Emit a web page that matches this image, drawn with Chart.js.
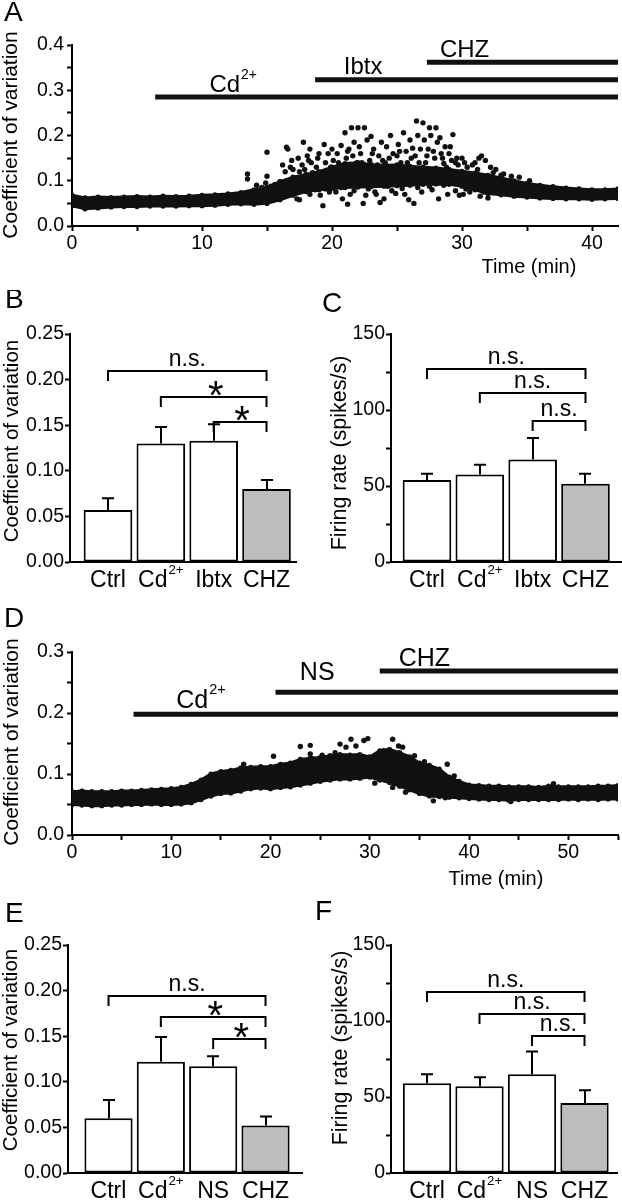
<!DOCTYPE html>
<html><head><meta charset="utf-8">
<script src="https://cdn.jsdelivr.net/npm/chart.js@4.4.1/dist/chart.umd.min.js"></script>
<style>
html,body{margin:0;padding:0;background:#fff;}
body{width:622px;height:1200px;position:relative;overflow:hidden;}
canvas{position:absolute;}
</style></head><body>
<canvas id="cA" width="622" height="290" style="left:0;top:0;width:622px;height:290px"></canvas>
<canvas id="cB" width="311" height="310" style="left:0;top:290px;width:311px;height:310px"></canvas>
<canvas id="cC" width="311" height="310" style="left:311px;top:290px;width:311px;height:310px"></canvas>
<canvas id="cD" width="622" height="310" style="left:0;top:590px;width:622px;height:310px"></canvas>
<canvas id="cE" width="311" height="300" style="left:0;top:900px;width:311px;height:300px"></canvas>
<canvas id="cF" width="311" height="300" style="left:311px;top:900px;width:311px;height:300px"></canvas>
<script>
// ---------------- DATA ----------------
// Panel A: CV time course (min)
const bandTimeA = [0,1,2,3,4,5,6,7,8,9,10,11,12,13,14,15,16,17,18,19,20,21,22,23,24,25,26,27,28,29,30,31,32,33,34,35,36,37,38,39,40,41,42];
const bandLowA  = [0.045,0.038,0.040,0.042,0.043,0.043,0.044,0.044,0.044,0.045,0.045,0.046,0.048,0.049,0.048,0.050,0.058,0.068,0.076,0.080,0.083,0.085,0.086,0.087,0.088,0.089,0.090,0.092,0.093,0.092,0.088,0.080,0.072,0.069,0.066,0.064,0.062,0.061,0.060,0.060,0.059,0.060,0.061];
const bandHighA = [0.068,0.062,0.064,0.063,0.064,0.065,0.064,0.066,0.065,0.066,0.068,0.069,0.071,0.074,0.080,0.085,0.098,0.108,0.114,0.120,0.130,0.138,0.140,0.136,0.134,0.135,0.132,0.130,0.128,0.125,0.121,0.117,0.112,0.106,0.100,0.094,0.090,0.087,0.084,0.082,0.080,0.080,0.082];
const dotTimeA = [13.5,13.5,14.2,14.6,14.9,15.0,15.0,15.3,15.6,16.0,16.2,16.4,16.5,16.6,16.8,17.0,17.2,17.3,17.5,17.7,17.8,18.0,18.1,18.2,18.3,18.4,18.6,18.8,19.0,19.2,19.4,19.5,19.6,19.8,19.9,
  20.2,20.4,20.6,20.8,21.0,21.1,21.3,21.5,21.7,21.8,22.0,22.2,22.4,22.5,22.7,22.9,23.0,23.2,23.4,23.6,23.8,24.0,24.2,24.5,24.7,24.9,25.1,25.3,25.5,25.7,25.9,26.0,26.2,26.5,26.6,26.8,
  27.0,27.1,27.3,27.5,27.6,27.8,28.0,28.1,28.3,28.5,28.7,28.9,29.0,29.3,29.5,29.8,30.2,30.6,31.3,31.5,31.8,32.2,32.6,33.2,33.8,34.4,35.2,
  17.5,19.3,21.2,23.7,26.3,28.2,
  20.1,20.9,21.6,22.3,23.1,23.9,24.4,25.0,25.8,26.4,27.2,27.9,28.6,29.2,29.7,30.4,31.0,
  18.3,19.1,20.3,21.4,22.6,23.3,24.6,25.6,26.9,27.7,29.5,30.1,31.4,32.0,
  16.9,17.4,17.9,18.5,18.9,19.7,20.0,20.5,20.7,21.2,21.9,22.1,22.8,23.5,24.1,24.8,25.2,25.4,26.1,26.7,27.4,28.4,28.8,29.1,29.6,30.0,30.8,31.2,32.4,33.0,
  18.7,19.5,20.7,21.7,22.8,24.3,25.4,26.6,27.5,28.6,30.3,31.7,16.3,15.8,17.0];
const dotValA = [0.115,0.104,0.090,0.085,0.095,0.163,0.110,0.088,0.092,0.098,0.135,0.120,0.174,0.170,0.130,0.125,0.105,0.060,0.120,0.135,0.185,0.100,0.155,0.145,0.170,0.140,0.090,0.130,0.160,0.115,0.180,0.140,0.105,0.075,0.130,
  0.120,0.160,0.095,0.060,0.206,0.150,0.170,0.217,0.185,0.100,0.217,0.160,0.050,0.217,0.190,0.145,0.198,0.170,0.070,0.155,0.185,0.060,0.175,0.200,0.160,0.072,0.180,0.140,0.206,0.165,0.058,0.190,0.172,0.232,0.200,0.170,
  0.228,0.190,0.155,0.217,0.200,0.165,0.217,0.185,0.195,0.150,0.175,0.070,0.160,0.202,0.140,0.068,0.140,0.075,0.150,0.155,0.145,0.130,0.125,0.115,0.110,0.108,0.100,
  0.058,0.045,0.048,0.052,0.050,0.060,
  0.145,0.135,0.155,0.140,0.160,0.145,0.150,0.155,0.140,0.155,0.140,0.150,0.138,0.145,0.135,0.130,0.140,
  0.070,0.068,0.075,0.070,0.068,0.075,0.078,0.070,0.075,0.080,0.078,0.070,0.066,0.062,
  0.145,0.150,0.125,0.118,0.150,0.160,0.170,0.140,0.178,0.165,0.140,0.175,0.130,0.135,0.140,0.130,0.165,0.125,0.150,0.140,0.170,0.160,0.130,0.175,0.150,0.150,0.135,0.125,0.118,0.112,
  0.080,0.082,0.085,0.078,0.082,0.088,0.083,0.085,0.088,0.090,0.082,0.075,0.070,0.068,0.078];
const drugNameA  = ['Cd','Ibtx','CHZ'];
const drugSupA   = ['2+','',''];
const drugStartA = [6.4,18.7,27.3];
const drugEndA   = [42,42,42];
const drugLevelA = [0.285,0.323,0.362];
const xTickLabelsA = ['0','','10','','20','','30','','40'];
const yTickLabelsA = ['0.0','','0.1','','0.2','','0.3','','0.4'];

// Panel B: CV summary
const catsB = ['Ctrl','Cd','Ibtx','CHZ'];
const catSupB = ['','2+','',''];
const meanB = [0.057,0.130,0.133,0.080];
const semB  = [0.013,0.018,0.018,0.010];
const sigFromB = [1,2,3], sigToB = [4,4,4];
const sigLevelB = [0.209,0.181,0.154];
const sigTextB = ['n.s.','*','*'];
const yTickLabelsB = ['0.00','0.05','0.10','0.15','0.20','0.25'];

// Panel C: firing rate summary
const catsC = ['Ctrl','Cd','Ibtx','CHZ'];
const catSupC = ['','2+','',''];
const meanC = [54,57.5,67.5,51.5];
const semC  = [4,6.5,14,6.5];
const sigFromC = [1,2,3], sigToC = [4,4,4];
const sigLevelC = [127,111,93];
const sigTextC = ['n.s.','n.s.','n.s.'];
const yTickLabelsC = ['0','','50','','100','','150'];

// Panel D: CV time course (min)
const bandTimeD = [0,1,2,3,4,5,6,7,8,9,10,11,12,13,14,15,16,17,18,19,20,21,22,23,24,25,26,27,28,29,30,31,32,33,34,35,36,37,38,39,40,41,42,43,44,45,46,47,48,49,50,51,52,53,54,55];
const bandLowD  = [0.050,0.049,0.048,0.048,0.049,0.049,0.050,0.050,0.051,0.050,0.050,0.051,0.053,0.058,0.064,0.068,0.069,0.072,0.076,0.077,0.076,0.078,0.079,0.082,0.085,0.088,0.090,0.092,0.092,0.093,0.095,0.090,0.086,0.080,0.074,0.068,0.064,0.063,0.062,0.061,0.060,0.059,0.058,0.058,0.057,0.058,0.058,0.058,0.058,0.058,0.059,0.058,0.059,0.058,0.059,0.059];
const bandHighD = [0.071,0.072,0.071,0.071,0.071,0.072,0.072,0.073,0.074,0.075,0.076,0.078,0.083,0.090,0.100,0.104,0.106,0.110,0.111,0.112,0.112,0.116,0.118,0.124,0.126,0.127,0.130,0.132,0.131,0.132,0.128,0.138,0.140,0.135,0.128,0.118,0.114,0.108,0.095,0.088,0.082,0.081,0.080,0.080,0.079,0.079,0.079,0.078,0.080,0.079,0.079,0.079,0.079,0.080,0.080,0.081];
const dotTimeD = [17.3,20.3,23.0,24.0,24.0,24.2,27.0,27.6,28.1,28.6,29.4,29.8,31.4,31.9,32.3,32.9,33.3,32.3,36.4,37.6,37.8,35.5,34.5,30.5,33.6,36.8,38.5,48.5,44.2,26.5,25.2];
const dotValD  = [0.116,0.129,0.145,0.147,0.133,0.125,0.149,0.144,0.157,0.146,0.155,0.158,0.138,0.139,0.157,0.146,0.144,0.078,0.056,0.061,0.116,0.120,0.130,0.085,0.070,0.105,0.097,0.084,0.055,0.135,0.131];
const drugNameD  = ['Cd','NS','CHZ'];
const drugSupD   = ['2+','',''];
const drugStartD = [6.2,20.5,31.0];
const drugEndD   = [55,55,55];
const drugLevelD = [0.198,0.234,0.269];
const xTickLabelsD = ['0','','10','','20','','30','','40','','50'];
const yTickLabelsD = ['0.0','','0.1','','0.2','','0.3'];

// Panel E: CV summary
const catsE = ['Ctrl','Cd','NS','CHZ'];
const catSupE = ['','2+','',''];
const meanE = [0.060,0.122,0.117,0.052];
const semE  = [0.020,0.027,0.011,0.010];
const sigFromE = [1,2,3], sigToE = [4,4,4];
const sigLevelE = [0.194,0.171,0.147];
const sigTextE = ['n.s.','*','*'];
const yTickLabelsE = ['0.00','0.05','0.10','0.15','0.20','0.25'];

// Panel F: firing rate summary
const catsF = ['Ctrl','Cd','NS','CHZ'];
const catSupF = ['','2+','',''];
const meanF = [59,57,65,46];
const semF  = [6,6,15,8.5];
const sigFromF = [1,2,3], sigToF = [4,4,4];
const sigLevelF = [119,104.4,90.3];
const sigTextF = ['n.s.','n.s.','n.s.'];
const yTickLabelsF = ['0','','50','','100','','150'];

// ---------------- DRAWING ----------------
const FONT = '"Liberation Sans", Arial, Helvetica, sans-serif';
const INK = '#111';
Chart.defaults.font.family = FONT;
Chart.defaults.color = '#000';
Chart.defaults.animation = false;
function fnt(s){ return s + 'px ' + FONT; }

function drawRich(ctx, x, y, main, sup, size, align) {
  ctx.save();
  ctx.fillStyle = '#000';
  ctx.textBaseline = 'alphabetic';
  ctx.textAlign = 'left';
  const ss = size * 0.58;
  ctx.font = fnt(size);
  const w1 = ctx.measureText(main).width;
  ctx.font = fnt(ss);
  const w2 = sup ? ctx.measureText(sup).width + 1 : 0;
  const tot = w1 + w2;
  const sx = align === 'center' ? x - tot / 2 : (align === 'right' ? x - tot : x);
  ctx.font = fnt(size);
  ctx.fillText(main, sx, y);
  if (sup) { ctx.font = fnt(ss); ctx.fillText(sup, sx + w1 + 1, y - size * 0.55); }
  ctx.restore();
}
function drawRot(ctx, text, x, y, size) {
  ctx.save(); ctx.translate(x, y); ctx.rotate(-Math.PI / 2);
  ctx.font = fnt(size); ctx.fillStyle = '#000';
  ctx.textAlign = 'center'; ctx.textBaseline = 'alphabetic';
  ctx.fillText(text, 0, 0); ctx.restore();
}
function tickLabel(labels, step) {
  return v => { const i = Math.round(v / step); return (Math.abs(v / step - i) < 1e-6 && labels[i] !== undefined) ? labels[i] : ''; };
}
function axisStyle() {
  return {
    grid: { display: true, drawOnChartArea: false, drawTicks: true, tickLength: 5, tickWidth: 2, tickColor: '#000' },
    border: { display: true, color: '#000', width: 2 }
  };
}

function scatterPanel(p) {
  const cv = document.getElementById(p.id);
  const W = cv.width, H = cv.height;
  const ds = [
    { data: p.time.map((t, i) => ({ x: t, y: p.high[i] })), borderColor: INK, backgroundColor: INK, borderWidth: 3,
      pointRadius: 2.6, pointBackgroundColor: INK, pointBorderWidth: 0, fill: '+1', tension: 0 },
    { data: p.time.map((t, i) => ({ x: t, y: p.low[i] })), borderColor: INK, borderWidth: 3,
      pointRadius: 2.6, pointBackgroundColor: INK, pointBorderWidth: 0, fill: false, tension: 0 },
    { data: p.dotT.map((t, i) => ({ x: t, y: p.dotV[i] })), showLine: false, pointRadius: 2.7,
      pointBackgroundColor: INK, pointBorderWidth: 0, fill: false }
  ];
  p.drugStart.forEach((s, i) => ds.push({
    data: [{ x: s, y: p.drugLevel[i] }, { x: p.drugEnd[i], y: p.drugLevel[i] }],
    borderColor: INK, borderWidth: 5, pointRadius: 0, fill: false, borderCapStyle: 'butt'
  }));
  const decor = {
    id: 'decor' + p.id,
    afterDraw(chart) {
      const ctx = chart.ctx, xs = chart.scales.x, ys = chart.scales.y;
      drawRich(ctx, p.letter.x, p.letter.y, p.letter.t, '', p.letter.s, 'left');
      drawRot(ctx, p.yTitle.t, p.yTitle.x, p.yTitle.y, p.yTitle.s);
      drawRich(ctx, p.xTitle.x, p.xTitle.y, p.xTitle.t, '', p.xTitle.s, 'center');
      p.drugName.forEach((n, i) => {
        const lab = p.drugLab[i];
        drawRich(ctx, xs.getPixelForValue(lab.t), ys.getPixelForValue(p.drugLevel[i]) + lab.dy, n, p.drugSup[i], p.drugFont, 'center');
      });
    }
  };
  new Chart(cv, {
    type: 'line',
    data: { datasets: ds },
    options: {
      responsive: false, animation: false,
      layout: { padding: { left: 0, top: p.area.t, right: W - p.area.r, bottom: 0 } },
      plugins: { legend: { display: false }, tooltip: { enabled: false } },
      scales: {
        x: Object.assign({ type: 'linear', min: 0, max: p.xMax,
          ticks: { stepSize: p.xStep, autoSkip: false, includeBounds: false, maxRotation: 0, padding: 1, color: '#000', font: { size: 19.5 }, callback: tickLabel(p.xLabels, p.xStep) },
          afterFit: s => { s.height = H - p.area.b; } }, axisStyle()),
        y: Object.assign({ type: 'linear', min: 0, max: p.yMax,
          ticks: { stepSize: p.yStep, autoSkip: false, includeBounds: false, padding: 3, color: '#000', font: { size: 19.5 }, callback: tickLabel(p.yLabels, p.yStep) },
          afterFit: s => { s.width = p.area.l; } }, axisStyle())
      }
    },
    plugins: [decor]
  });
}

function barPanel(p) {
  const cv = document.getElementById(p.id);
  const W = cv.width, H = cv.height;
  const decor = {
    id: 'decor' + p.id,
    afterDatasetsDraw(chart) {
      const ctx = chart.ctx, xs = chart.scales.x, ys = chart.scales.y;
      ctx.save(); ctx.strokeStyle = '#000'; ctx.lineWidth = 2;
      p.mean.forEach((m, i) => {
        const x = Math.round(xs.getPixelForValue(i + 1));
        const y1 = ys.getPixelForValue(m), y2 = ys.getPixelForValue(m + p.sem[i]);
        ctx.beginPath(); ctx.moveTo(x, y1); ctx.lineTo(x, y2);
        ctx.moveTo(x - 6, y2); ctx.lineTo(x + 6, y2); ctx.stroke();
      });
      ctx.restore();
    },
    afterDraw(chart) {
      const ctx = chart.ctx, xs = chart.scales.x, ys = chart.scales.y;
      drawRich(ctx, p.letter.x, p.letter.y, p.letter.t, '', p.letter.s, 'left');
      drawRot(ctx, p.yTitle.t, p.yTitle.x, p.yTitle.y, p.yTitle.s);
      p.cats.forEach((c, i) => drawRich(ctx, xs.getPixelForValue(i + 1), ys.bottom + 25, c, p.catSup[i], 23, 'center'));
      ctx.save(); ctx.strokeStyle = '#000'; ctx.lineWidth = 2;
      p.sigFrom.forEach((f, i) => {
        const x1 = xs.getPixelForValue(f), x2 = xs.getPixelForValue(p.sigTo[i]);
        const y = Math.round(ys.getPixelForValue(p.sigLevel[i]));
        ctx.beginPath(); ctx.moveTo(x1, y + 10); ctx.lineTo(x1, y); ctx.lineTo(x2, y); ctx.lineTo(x2, y + 10); ctx.stroke();
        const t = p.sigText[i];
        if (t === '*') drawRich(ctx, (x1 + x2) / 2 + 2, y + 12, t, '', 40, 'center');
        else drawRich(ctx, (x1 + x2) / 2, y - 5, t, '', 23, 'center');
      });
      ctx.restore();
    }
  };
  new Chart(cv, {
    type: 'bar',
    data: { datasets: [{
      data: p.cats.map((c, i) => ({ x: i + 1, y: p.mean[i] })),
      backgroundColor: p.cats.map((c, i) => i === 3 ? '#bdbdbd' : '#ffffff'),
      borderColor: '#000', borderWidth: 2, borderSkipped: false,
      barPercentage: 0.92, categoryPercentage: 1
    }] },
    options: {
      responsive: false, animation: false,
      layout: { padding: { left: 0, top: p.area.t, right: W - p.area.r, bottom: 0 } },
      plugins: { legend: { display: false }, tooltip: { enabled: false } },
      scales: {
        x: { type: 'linear', min: p.xMin, max: p.xMax, offset: false,
          ticks: { display: false },
          grid: { display: false, offset: false, drawTicks: false },
          border: { display: true, color: '#000', width: 2 },
          afterBuildTicks: s => { s.ticks = p.cats.map((c, i) => ({ value: i + 1 })); },
          afterFit: s => { s.height = H - p.area.b; } },
        y: Object.assign({ type: 'linear', min: 0, max: p.yMax,
          ticks: { stepSize: p.yStep, autoSkip: false, includeBounds: false, padding: 1, color: '#000', font: { size: 19.5 }, callback: tickLabel(p.yLabels, p.yStep) },
          afterFit: s => { s.width = p.area.l; } }, axisStyle())
      }
    },
    plugins: [decor]
  });
}

scatterPanel({ id: 'cA', area: { l: 72, t: 45, r: 620, b: 226 }, xMax: 42, xStep: 5, yMax: 0.4, yStep: 0.05,
  xLabels: xTickLabelsA, yLabels: yTickLabelsA, time: bandTimeA, low: bandLowA, high: bandHighA, dotT: dotTimeA, dotV: dotValA,
  drugName: drugNameA, drugSup: drugSupA, drugStart: drugStartA, drugEnd: drugEndA, drugLevel: drugLevelA,
  drugLab: [{ t: 12.4, dy: -5 }, { t: 22.4, dy: -6 }, { t: 30.2, dy: -5 }], drugFont: 24,
  letter: { t: 'A', x: 4, y: 21, s: 28 }, yTitle: { t: 'Coefficient of variation', x: 17, y: 135, s: 21 },
  xTitle: { t: 'Time (min)', x: 529, y: 273, s: 20 } });

barPanel({ id: 'cB', area: { l: 70, t: 44, r: 296, b: 272 }, xMin: 0.281, xMax: 4.558, yMax: 0.25, yStep: 0.05, yLabels: yTickLabelsB,
  cats: catsB, catSup: catSupB, mean: meanB, sem: semB, sigFrom: sigFromB, sigTo: sigToB, sigLevel: sigLevelB, sigText: sigTextB,
  letter: { t: 'B', x: 5, y: 18, s: 28 }, yTitle: { t: 'Coefficient of variation', x: 18, y: 151, s: 20.5 } });

barPanel({ id: 'cC', area: { l: 80, t: 44, r: 310, b: 272 }, xMin: 0.319, xMax: 4.672, yMax: 150, yStep: 25, yLabels: yTickLabelsC,
  cats: catsC, catSup: catSupC, mean: meanC, sem: semC, sigFrom: sigFromC, sigTo: sigToC, sigLevel: sigLevelC, sigText: sigTextC,
  letter: { t: 'C', x: 11, y: 22, s: 28 }, yTitle: { t: 'Firing rate (spikes/s)', x: 35, y: 163, s: 21.5 } });

scatterPanel({ id: 'cD', area: { l: 72, t: 62, r: 620, b: 245 }, xMax: 55, xStep: 5, yMax: 0.3, yStep: 0.05,
  xLabels: xTickLabelsD, yLabels: yTickLabelsD, time: bandTimeD, low: bandLowD, high: bandHighD, dotT: dotTimeD, dotV: dotValD,
  drugName: drugNameD, drugSup: drugSupD, drugStart: drugStartD, drugEnd: drugEndD, drugLevel: drugLevelD,
  drugLab: [{ t: 13.0, dy: -6 }, { t: 24.7, dy: -12 }, { t: 35.5, dy: -5 }], drugFont: 25,
  letter: { t: 'D', x: 4, y: 37, s: 28 }, yTitle: { t: 'Coefficient of variation', x: 17.5, y: 152, s: 21 },
  xTitle: { t: 'Time (min)', x: 496, y: 295, s: 20 } });

barPanel({ id: 'cE', area: { l: 68, t: 45, r: 302, b: 273 }, xMin: 0.226, xMax: 4.697, yMax: 0.25, yStep: 0.05, yLabels: yTickLabelsE,
  cats: catsE, catSup: catSupE, mean: meanE, sem: semE, sigFrom: sigFromE, sigTo: sigToE, sigLevel: sigLevelE, sigText: sigTextE,
  letter: { t: 'E', x: 5, y: 22, s: 28 }, yTitle: { t: 'Coefficient of variation', x: 17, y: 150, s: 20.5 } });

barPanel({ id: 'cF', area: { l: 80, t: 45, r: 306, b: 273 }, xMin: 0.314, xMax: 4.619, yMax: 150, yStep: 25, yLabels: yTickLabelsF,
  cats: catsF, catSup: catSupF, mean: meanF, sem: semF, sigFrom: sigFromF, sigTo: sigToF, sigLevel: sigLevelF, sigText: sigTextF,
  letter: { t: 'F', x: 4, y: 20, s: 28 }, yTitle: { t: 'Firing rate (spikes/s)', x: 36, y: 148, s: 21.5 } });
</script>
</body></html>
